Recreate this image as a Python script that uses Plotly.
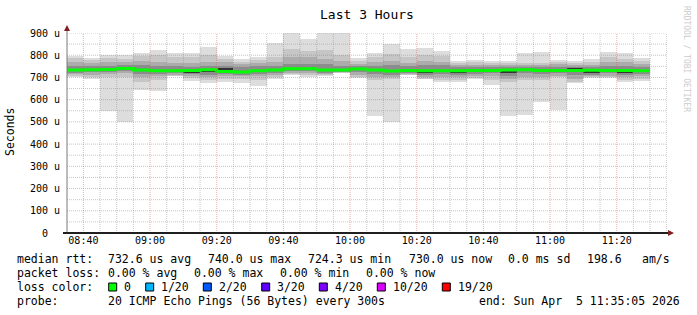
import numpy as np
import pandas as pd
import plotly.graph_objects as go

# ---------------- data ----------------
DAY = "2026-04-05"
slots = ["08:35", "08:40", "08:45", "08:50", "08:55", "09:00", "09:05", "09:10", "09:15",
         "09:20", "09:25", "09:30", "09:35", "09:40", "09:45", "09:50", "09:55", "10:00",
         "10:05", "10:10", "10:15", "10:20", "10:25", "10:30", "10:35", "10:40", "10:45",
         "10:50", "10:55", "11:00", "11:05", "11:10", "11:15", "11:20", "11:25"]

# round-trip times in microseconds (sorted ping ranks per 5-minute slot)
ping_max = [796, 787, 801, 802, 812, 823, 812, 812, 835, 796, 782, 794, 855, 905, 873, 905, 905, 787,
            809, 850, 828, 834, 819, 774, 779, 774, 774, 812, 816, 779, 774, 783, 813, 809, 789]
ping_18 = [786, 778, 786, 785, 795, 800, 790, 790, 800, 785, 770, 780, 790, 830, 820, 825, 800, 775,
           790, 805, 790, 800, 795, 765, 768, 765, 765, 765, 765, 770, 765, 770, 790, 785, 775]
ping_16 = [770, 765, 768, 770, 775, 770, 765, 765, 770, 768, 760, 765, 770, 790, 790, 785, 775, 760,
           770, 775, 765, 775, 770, 755, 755, 755, 755, 758, 755, 760, 755, 758, 768, 768, 762]
ping_14 = [752, 752, 750, 755, 755, 750, 750, 748, 752, 750, 745, 750, 752, 760, 762, 760, 752, 750,
           752, 755, 750, 755, 755, 745, 745, 745, 745, 748, 745, 748, 745, 745, 752, 750, 748]
ping_11 = [738, 740, 741, 745, 738, 735, 735, 736, 740, 743, 729, 735, 738, 744, 744, 740, 738, 743,
           738, 734, 738, 735, 735, 735, 736, 736, 739, 740, 736, 740, 742, 737, 736, 736, 735]
median = [733, 735, 736, 740, 733, 730, 730, 731, 735, 727, 724.3, 730, 733, 739, 739, 733, 733, 738,
          733, 729, 731, 730, 730, 730, 731, 731, 734, 735, 731, 731, 731, 732, 731, 731, 730]
ping_10 = [728, 730, 731, 735, 728, 725, 725, 719, 723, 722, 719, 723, 728, 734, 734, 728, 728, 733,
           728, 724, 726, 719, 725, 720, 726, 726, 720, 730, 726, 726, 726, 718, 726, 721, 725]
ping_7 = [722, 724, 725, 728, 715, 715, 720, 716, 710, 716, 712, 716, 720, 728, 728, 722, 726, 725,
          715, 712, 722, 712, 715, 712, 715, 718, 708, 718, 715, 718, 712, 712, 718, 712, 716]
ping_5 = [715, 712, 715, 718, 700, 705, 713, 708, 700, 705, 705, 708, 710, 722, 718, 716, 724, 712,
          700, 700, 716, 703, 700, 700, 705, 705, 695, 700, 700, 708, 695, 705, 708, 700, 705]
ping_3 = [708, 702, 700, 700, 680, 690, 708, 698, 690, 692, 695, 690, 700, 716, 710, 710, 722, 702,
          690, 695, 712, 695, 688, 688, 698, 690, 680, 690, 690, 700, 680, 700, 700, 690, 695]
ping_min = [700, 693, 550, 501, 643, 640, 705, 685, 675, 680, 676, 663, 694, 711, 700, 707, 721, 697,
            528, 500, 711, 692, 680, 680, 693, 666, 526, 531, 588, 553, 673, 697, 697, 680, 685]

y_ticks = [0, 100, 200, 300, 400, 500, 600, 700, 800, 900]
y_labels = ["0\u00a0\u00a0", "100 u", "200 u", "300 u", "400 u", "500 u", "600 u", "700 u", "800 u", "900 u"]
x_ticks = ["08:40", "09:00", "09:20", "09:40", "10:00", "10:20", "10:40", "11:00", "11:20"]

loss_labels = ["0", "1/20", "2/20", "3/20", "4/20", "10/20", "19/20"]
loss_colors = ["#00ff00", "#00b8ff", "#0059ff", "#5e00ff", "#7e00ff", "#dd00ff", "#ff0000"]

stats_rtt = ["732.6 us avg", "740.0 us max", "724.3 us min", "730.0 us now", "0.0 ms sd", "198.6", "am/s"]
stats_loss = ["0.00 % avg", "0.00 % max", "0.00 % min", "0.00 % now"]
probe_text = "20 ICMP Echo Pings (56 Bytes) every 300s"
end_text = "end: Sun Apr\u00a0 5 11:35:05 2026"

# ---------------- geometry helpers (pixels -> paper) ----------------
W, H = 697, 315
L, R, T, B = 67, 30, 33, 82
PW, PH = W - L - R, H - T - B


def px(x):
    return (x - L) / PW


def py(y):
    return (H - B - y) / PH


MONO = "DejaVu Sans Mono"
GRID_MINOR = "rgba(143,143,143,0.5)"
GRID_MAJOR = "rgba(222,79,79,0.45)"
start = pd.to_datetime([f"{DAY} {s}" for s in slots])
step = pd.Timedelta(minutes=5)
center = start + step / 2

fig = go.Figure()

layers = [(ping_min, ping_max, "#dddddd"), (ping_3, ping_18, "#c6c6c6"), (ping_5, ping_16, "#acacac"),
          (ping_7, ping_14, "#8c8c8c"), (ping_10, ping_11, "#333333")]
for lo, hi, col in layers:
    lo_a, hi_a = np.array(lo, float), np.array(hi, float)
    fig.add_trace(go.Bar(x=center, y=hi_a - lo_a, base=lo_a, width=300000,
                         marker=dict(color=col, line=dict(width=0)), hoverinfo="skip",
                         showlegend=False))

fig.add_trace(go.Scatter(x=list(start) + [start[-1] + step], y=median + [median[-1]], mode="lines",
                         line=dict(color="#00ff00", width=3, shape="hv"), hoverinfo="skip",
                         showlegend=False))

shapes = []
# grid (drawn above the smoke like rrdtool)
minor_t = pd.date_range(f"{DAY} 08:40", f"{DAY} 11:35", freq="5min")
for t in minor_t:
    major = (t.minute % 20 == 0)
    shapes.append(dict(type="line", xref="x", yref="paper", x0=t, x1=t, y0=0, y1=1, layer="above",
                       line=dict(color=GRID_MAJOR if major else GRID_MINOR, width=1, dash="1px,1px")))
for v in range(50, 901, 50):
    major = (v % 100 == 0)
    shapes.append(dict(type="line", xref="paper", yref="y", x0=0, x1=1, y0=v, y1=v, layer="above",
                       line=dict(color=GRID_MAJOR if major else GRID_MINOR, width=1, dash="1px,1px")))
# axes + arrows
shapes.append(dict(type="line", xref="paper", yref="paper", x0=0, x1=0, y0=0, y1=py(29),
                   line=dict(color="#7a7a7a", width=1), layer="above"))
shapes.append(dict(type="line", xref="paper", yref="paper", x0=px(63), x1=px(670), y0=0, y1=0,
                   line=dict(color="#1f1f1f", width=2), layer="above"))
shapes.append(dict(type="path", xref="paper", yref="paper",
                   path=f"M {px(64)},{py(31)} L {px(70)},{py(31)} L {px(67)},{py(25)} Z",
                   fillcolor="#801f1f", line=dict(width=0), layer="above"))
shapes.append(dict(type="path", xref="paper", yref="paper",
                   path=f"M {px(668)},{py(230)} L {px(668)},{py(236)} L {px(674)},{py(233)} Z",
                   fillcolor="#801f1f", line=dict(width=0), layer="above"))

ann = []


def text(x, y, s, size=11.5, **kw):
    ann.append(dict(xref="paper", yref="paper", x=px(x - 1.5), y=py(y), text=s, showarrow=False,
                    xanchor="left", yanchor="middle", font=dict(family=MONO, size=size, color="black"),
                    **kw))


# legend lines
text(16, 259, "median rtt:")
for xpos, s in zip([107.3, 207.3, 307.3, 408.3, 507.3, 586.7, 641.7], stats_rtt):
    text(xpos, 259, s)
text(16, 273, "packet loss:")
for xpos, s in zip([107.3, 193.3, 279.3, 365.7], stats_loss):
    text(xpos, 273, s)
text(16, 287, "loss color:")
box_x = [108.7, 145.7, 203.3, 261.7, 319.3, 377.3, 442.3]
for bx, lab, col in zip(box_x, loss_labels, loss_colors):
    shapes.append(dict(type="rect", xref="paper", yref="paper", x0=px(bx), x1=px(bx + 8),
                       y0=py(291), y1=py(283), fillcolor=col, line=dict(color="black", width=1)))
    text(bx + 15, 287, lab)
text(16, 301, "probe:")
text(107.3, 301, probe_text)
text(478.3, 301, end_text)

# title, y title, watermark
ann.append(dict(xref="paper", yref="paper", x=px(367), y=py(14), text="Last 3 Hours", showarrow=False,
                xanchor="center", yanchor="middle", font=dict(family=MONO, size=13, color="black")))
ann.append(dict(xref="paper", yref="paper", x=px(10), y=py(132), text="Seconds", showarrow=False,
                textangle=-90, xanchor="center", yanchor="middle",
                font=dict(family=MONO, size=11.5, color="black")))
ann.append(dict(xref="paper", yref="paper", x=px(687), y=py(59), text="RRDTOOL / TOBI OETIKER",
                showarrow=False, textangle=90, xanchor="center", yanchor="middle",
                font=dict(family=MONO, size=8, color="#cccccc")))

fig.update_layout(
    width=W, height=H, margin=dict(l=L, r=R, t=T, b=B, pad=0),
    paper_bgcolor="white", plot_bgcolor="white", barmode="overlay", bargap=0,
    showlegend=False, shapes=shapes, annotations=ann,
    font=dict(family=MONO, color="black"),
    xaxis=dict(type="date", range=[f"{DAY} 08:35:05", f"{DAY} 11:35:05"], showgrid=False,
               zeroline=False, showline=False, ticks="",
               tickvals=[f"{DAY} {t}" for t in x_ticks], ticktext=x_ticks,
               tickfont=dict(family=MONO, size=10, color="black")),
    yaxis=dict(range=[0, 900], showgrid=False, zeroline=False, showline=False, ticks="",
               tickvals=y_ticks, ticktext=y_labels, ticklabelstandoff=6,
               tickfont=dict(family=MONO, size=10, color="black")),
)

fig.write_html("out.html")
